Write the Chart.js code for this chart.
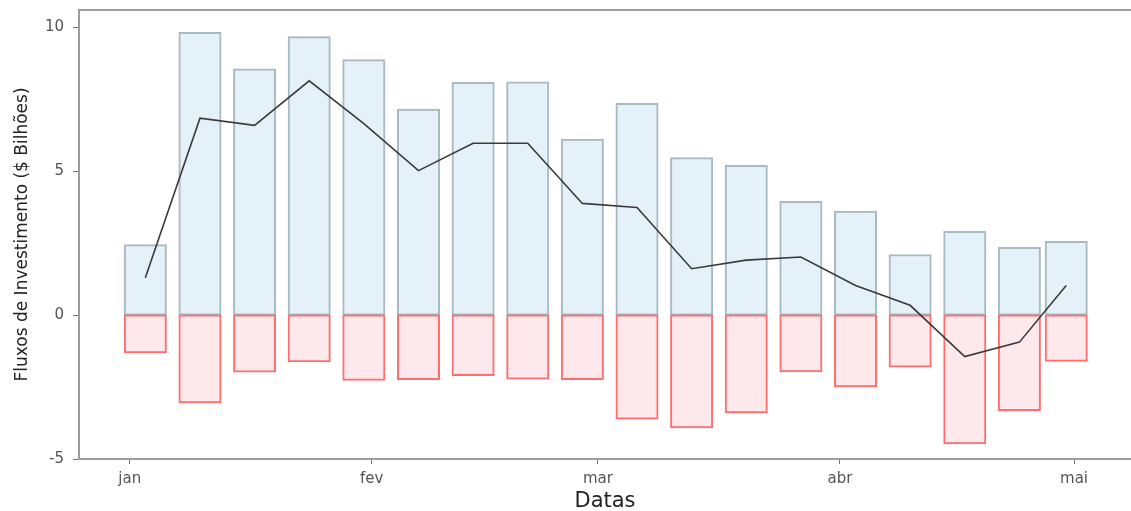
<!DOCTYPE html>
<html>
<head>
    <title>Fluxos de Investimento</title>
    <style>
        body { margin: 0; background: #ffffff; }
        #wrap { width: 1131px; height: 511px; }
    </style>
</head>
<body>
    <div id="wrap"><canvas id="fluxChart" width="1131" height="511"></canvas></div>

    <script src="https://cdn.jsdelivr.net/npm/chart.js"></script>
    <script>
        // weekly dates (2020)
        const dates = ['2020-01-03', '2020-01-10', '2020-01-17', '2020-01-24', '2020-01-31',
                       '2020-02-07', '2020-02-14', '2020-02-21', '2020-02-28',
                       '2020-03-06', '2020-03-13', '2020-03-20', '2020-03-27',
                       '2020-04-03', '2020-04-10', '2020-04-17', '2020-04-24', '2020-04-30'];
        const inflows  = [2.43, 9.80, 8.53, 9.65, 8.85, 7.13, 8.06, 8.08, 6.09, 7.33, 5.45, 5.18, 3.93, 3.59, 2.08, 2.89, 2.33, 2.54];
        const outflows = [-1.29, -3.03, -1.96, -1.60, -2.25, -2.22, -2.08, -2.20, -2.22, -3.59, -3.90, -3.38, -1.95, -2.47, -1.79, -4.45, -3.30, -1.59];
        const netFlow  = [1.30, 6.84, 6.59, 8.14, 6.65, 5.02, 5.97, 5.97, 3.88, 3.74, 1.61, 1.91, 2.02, 1.03, 0.34, -1.44, -0.94, 1.03];
        const monthTicks  = ['2020-01-01', '2020-02-01', '2020-03-01', '2020-04-01', '2020-05-01'];
        const monthLabels = ['jan', 'fev', 'mar', 'abr', 'mai'];
        const yTicks = [-5, 0, 5, 10];

        const DAY = 86400000;
        const origin = Date.UTC(2020, 0, 1);
        const toDay = s => {
            const [y, m, d] = s.split('-').map(Number);
            return (Date.UTC(y, m - 1, d) - origin) / DAY;
        };
        const days = dates.map(toDay);
        const monthDays = monthTicks.map(toDay);

        const axisGrey = '#9c9c9c';
        const family = 'DejaVu Sans, Liberation Sans, sans-serif';
        const tickFont = { family, size: 15 };

        // top frame line of the panel
        const topLine = {
            id: 'topLine',
            afterDraw(chart) {
                const { ctx, chartArea } = chart;
                ctx.save();
                ctx.strokeStyle = axisGrey;
                ctx.lineWidth = 2;
                ctx.beginPath();
                ctx.moveTo(chartArea.left, chartArea.top);
                ctx.lineTo(chart.width, chartArea.top);
                ctx.stroke();
                ctx.restore();
            }
        };

        new Chart(document.getElementById('fluxChart'), {
            type: 'bar',
            data: {
                datasets: [
                    {
                        type: 'line',
                        data: days.map((d, i) => ({ x: d, y: netFlow[i] })),
                        borderColor: '#3a3a3a',
                        borderWidth: 1.6,
                        pointRadius: 0,
                        tension: 0,
                        order: 0
                    },
                    {
                        data: days.map((d, i) => ({ x: d, y: outflows[i] })),
                        backgroundColor: '#fde8ec',
                        borderColor: '#ff6e6e',
                        borderWidth: 2,
                        borderSkipped: false,
                        inflateAmount: 1,
                        barThickness: 41,
                        grouped: false,
                        order: 1
                    },
                    {
                        data: days.map((d, i) => ({ x: d, y: inflows[i] })),
                        backgroundColor: '#e5f1f8',
                        borderColor: '#a7b9c1',
                        borderWidth: 2,
                        borderSkipped: false,
                        inflateAmount: 1,
                        barThickness: 41,
                        grouped: false,
                        order: 2
                    }
                ]
            },
            options: {
                responsive: false,
                devicePixelRatio: 1,
                animation: false,
                layout: { padding: { top: 10, left: 0, right: 0, bottom: 0 } },
                plugins: {
                    legend: { display: false },
                    tooltip: { enabled: false }
                },
                scales: {
                    x: {
                        type: 'linear',
                        min: -6.5,
                        max: 128.3,
                        offset: false,
                        afterBuildTicks: s => { s.ticks = monthDays.map(v => ({ value: v })); },
                        afterFit: s => { s.height = 52; s.paddingLeft = 0; s.paddingRight = 0; },
                        ticks: {
                            autoSkip: false,
                            maxRotation: 0,
                            padding: 6,
                            color: '#555',
                            font: tickFont,
                            callback: v => monthLabels[monthDays.indexOf(v)]
                        },
                        grid: { offset: false, drawOnChartArea: false, tickLength: 5, tickColor: '#777' },
                        border: { display: true, color: axisGrey, width: 2 },
                        title: {
                            display: true,
                            text: 'Datas',
                            color: '#222',
                            padding: { top: 0, bottom: -3 },
                            font: { family, size: 21 }
                        }
                    },
                    y: {
                        min: -5,
                        max: 10.6,
                        afterBuildTicks: s => { s.ticks = yTicks.map(v => ({ value: v })); },
                        afterFit: s => { s.width = 79; s.paddingTop = 0; s.paddingBottom = 0; },
                        ticks: { padding: 9, color: '#555', font: tickFont },
                        grid: { drawOnChartArea: false, tickLength: 6, tickColor: '#777' },
                        border: { display: true, color: axisGrey, width: 2 },
                        title: {
                            display: true,
                            text: 'Fluxos de Investimento ($ Bilhões)',
                            color: '#222',
                            padding: { top: 12, bottom: 0 },
                            font: { family, size: 17 }
                        }
                    }
                }
            },
            plugins: [topLine]
        });
    </script>
</body>
</html>
